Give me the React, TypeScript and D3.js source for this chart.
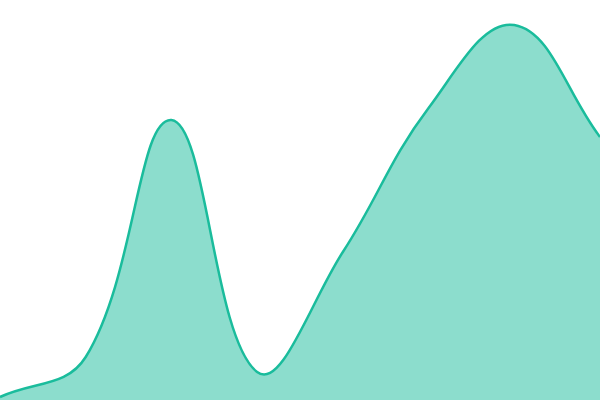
import React from "react";
import * as d3 from "d3";

const categories = [0, 1, 2, 3, 4, 5, 6, 7];
const values = [3, 43, 280, 28, 148, 292, 375, 263];

const W = 600;
const H = 400;
const TENSION = 0.4;

type P = [number, number];

function splinePath(pts: P[], baseline: number | null): string {
  const p = d3.path();
  const cps = pts.map((cur, i) => {
    const prev = pts[i - 1] || cur;
    const next = pts[i + 1] || cur;
    const d01 = Math.hypot(cur[0] - prev[0], cur[1] - prev[1]);
    const d12 = Math.hypot(next[0] - cur[0], next[1] - cur[1]);
    let s01 = d01 / (d01 + d12);
    let s12 = d12 / (d01 + d12);
    if (!isFinite(s01)) s01 = 0;
    if (!isFinite(s12)) s12 = 0;
    const fa = TENSION * s01;
    const fb = TENSION * s12;
    return {
      prev: [cur[0] - fa * (next[0] - prev[0]), cur[1] - fa * (next[1] - prev[1])] as P,
      next: [cur[0] + fb * (next[0] - prev[0]), cur[1] + fb * (next[1] - prev[1])] as P,
    };
  });
  if (baseline !== null) {
    p.moveTo(pts[0][0], baseline);
    p.lineTo(pts[0][0], pts[0][1]);
  } else {
    p.moveTo(pts[0][0], pts[0][1]);
  }
  for (let i = 1; i < pts.length; i++) {
    const a = cps[i - 1].next;
    const b = cps[i].prev;
    p.bezierCurveTo(a[0], a[1], b[0], b[1], pts[i][0], pts[i][1]);
  }
  if (baseline !== null) {
    p.lineTo(pts[pts.length - 1][0], baseline);
    p.closePath();
  }
  return p.toString();
}

export default function App() {
  const x = d3.scaleLinear().domain([0, categories.length - 1]).range([0, W]);
  const y = d3.scaleLinear().domain([0, 400]).range([H, 0]);
  const pts: P[] = categories.map((c, i) => [x(c), y(values[i])]);
  return (
    <svg
      width={W}
      height={H}
      style={{ position: "absolute", left: 0, top: 0, display: "block" }}
    >
      <path d={splinePath(pts, H)} fill="#1abc9c" fillOpacity={0.5} />
      <path d={splinePath(pts, null)} fill="none" stroke="#1abc9c" strokeWidth={2.5} />
    </svg>
  );
}
